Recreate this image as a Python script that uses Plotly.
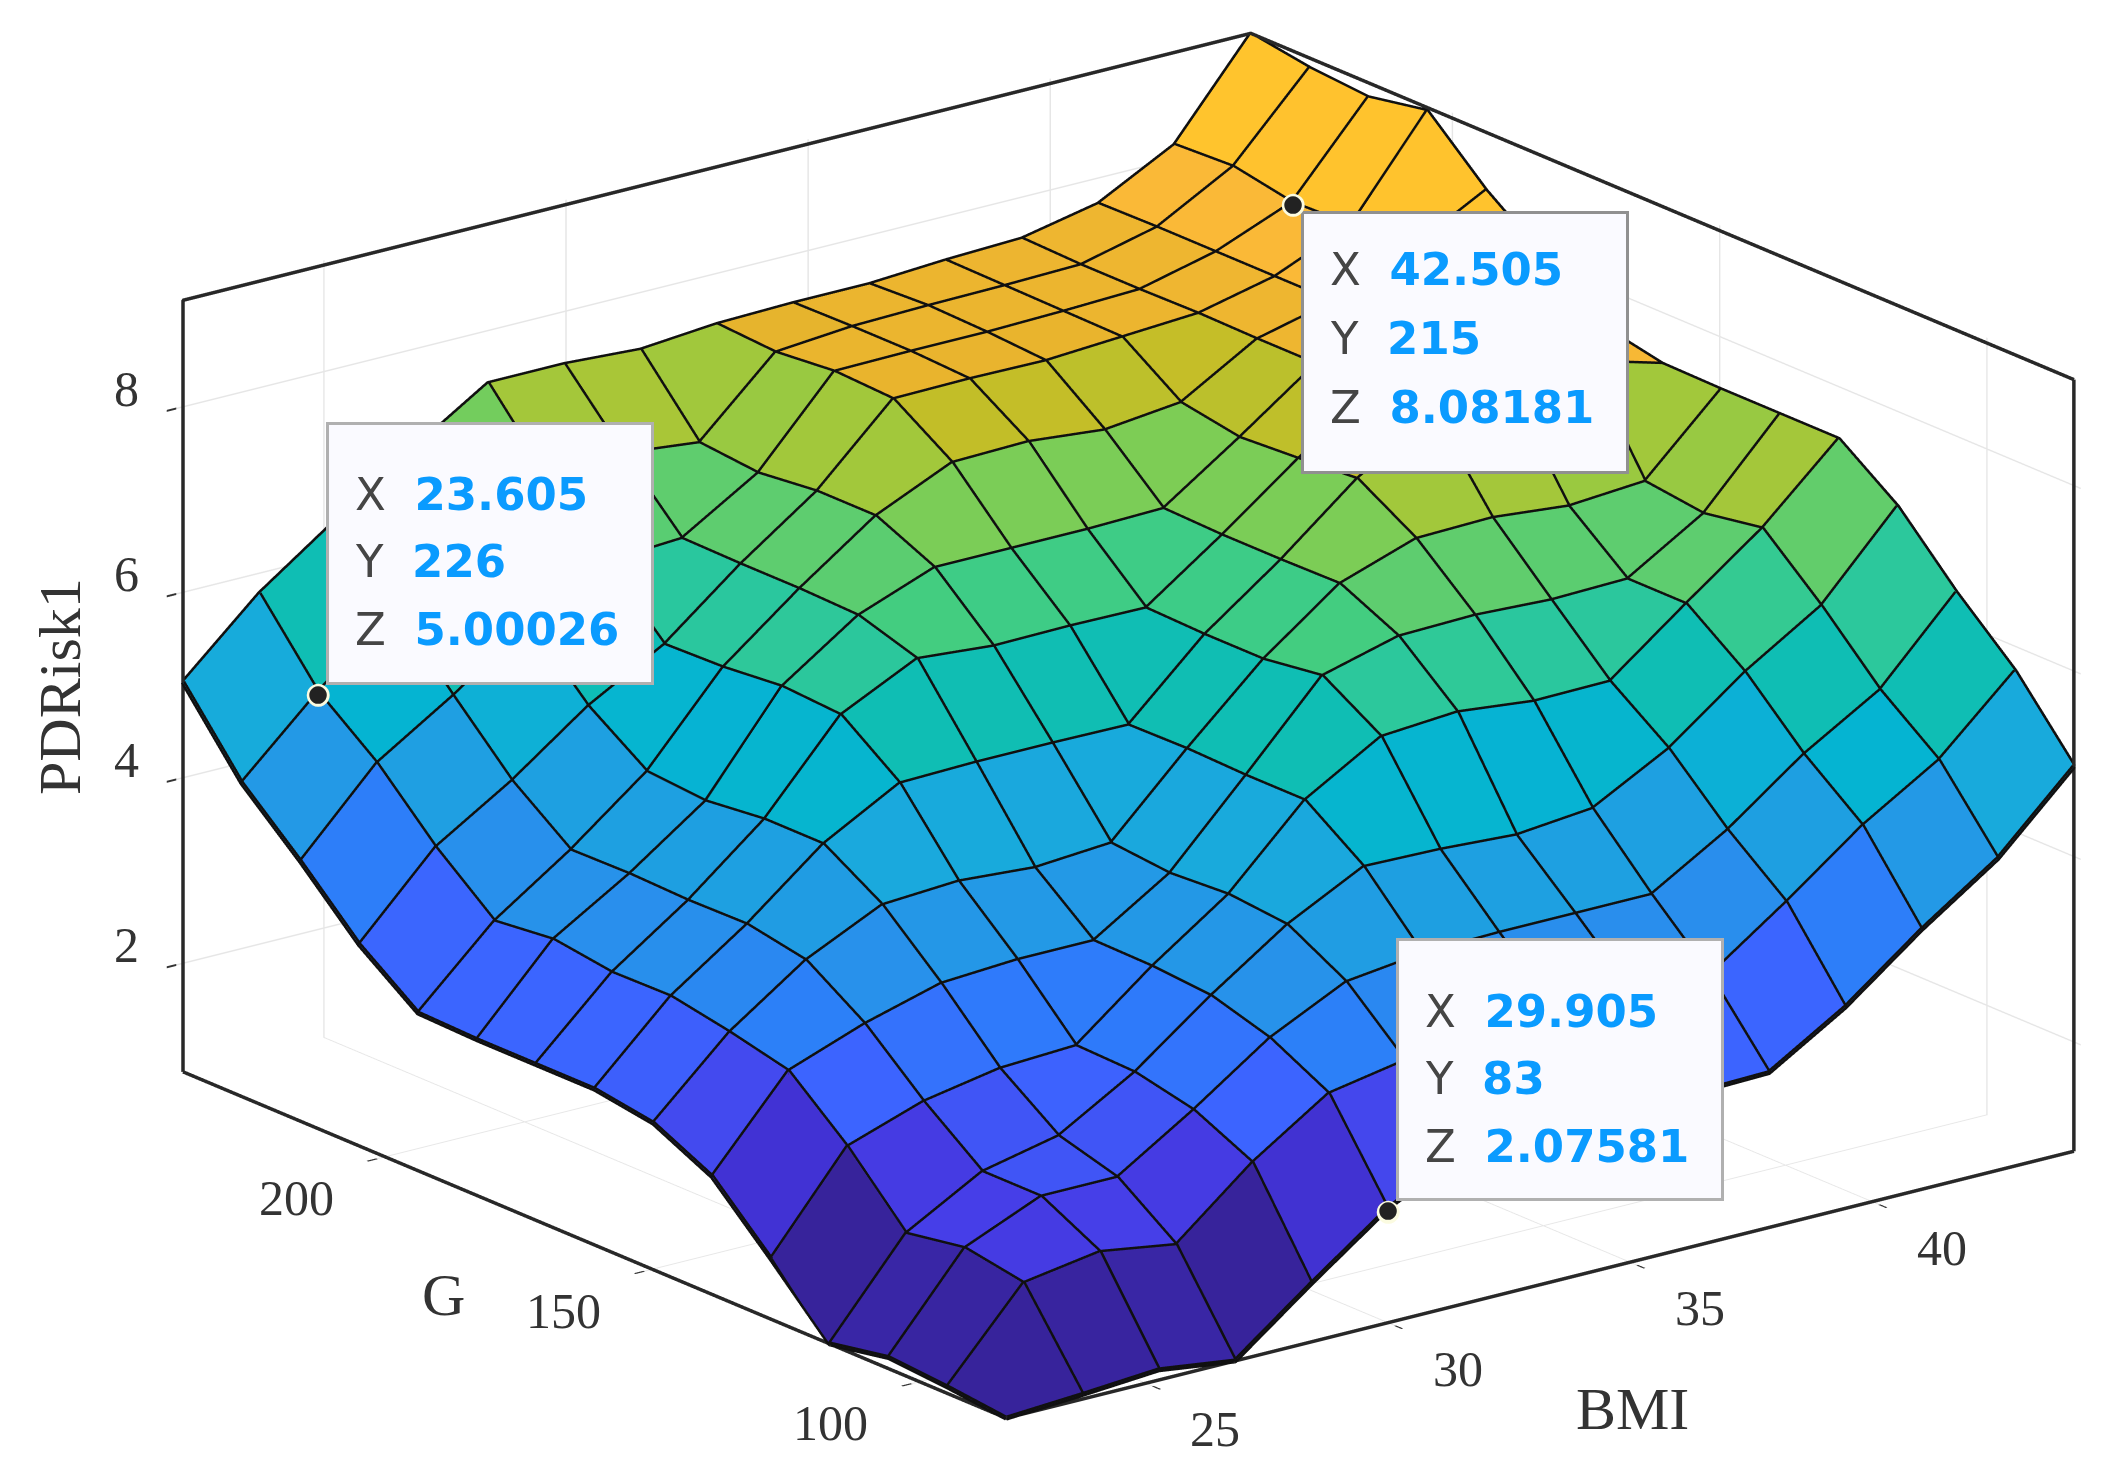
import plotly.graph_objects as go

W, H = 2117, 1477
BMI = [22.03 + 1.575 * n for n in range(15)]
G = [83 + 11 * n for n in range(15)]
# PDRisk1: one row per BMI value, one column per G value
Z = [
 [0.85,0.92,0.97,0.85,1.50,2.12,2.43,2.53,2.53,2.53,2.55,3.02,3.65,4.23,5.05],
 [0.90,1.83,1.94,1.83,2.50,3.05,3.20,3.32,3.31,3.40,3.33,3.86,4.50,5.00,5.80],
 [0.96,1.96,2.29,2.29,2.78,3.35,3.77,3.89,3.88,3.90,3.89,4.37,5.02,5.70,6.38],
 [0.85,1.83,2.29,2.47,2.93,3.58,4.16,4.55,4.55,4.48,4.53,4.97,5.60,6.30,6.93],
 [1.48,2.51,2.81,2.95,2.97,3.63,4.21,5.00,5.47,5.51,5.45,5.43,6.05,6.70,7.45],
 [2.08,3.05,3.38,3.57,3.62,3.63,4.15,5.02,5.87,6.07,6.09,6.09,6.10,6.75,7.45],
 [2.50,3.20,3.78,4.13,4.19,4.15,4.21,5.02,5.80,6.38,6.67,6.67,6.60,6.66,7.40],
 [2.50,3.30,3.88,4.55,5.00,5.00,5.02,5.01,5.81,6.38,7.04,7.46,7.49,7.43,7.47],
 [2.50,3.30,3.90,4.53,5.48,5.87,5.78,5.78,5.80,6.38,7.06,7.47,7.50,7.50,7.49],
 [2.50,3.30,3.90,4.48,5.54,6.09,6.39,6.38,6.38,6.40,6.98,7.46,7.50,7.52,7.49],
 [2.52,3.30,3.90,4.56,5.45,6.11,6.67,7.05,7.00,6.96,7.07,7.51,7.52,7.53,7.54],
 [3.02,3.88,4.39,5.00,5.46,6.07,6.69,7.55,7.55,7.55,7.55,7.56,7.55,7.55,7.57],
 [3.65,4.50,5.00,5.62,6.09,6.09,6.61,7.60,7.70,7.75,7.75,7.75,7.75,7.75,7.74],
 [4.21,5.00,5.49,6.13,6.70,6.59,6.67,7.70,8.00,8.10,8.10,8.10,8.08,8.20,8.17],
 [5.00,5.76,6.34,7.00,7.46,7.46,7.46,7.47,7.60,8.07,8.54,9.13,9.01,9.06,9.16],
]
BMI_TICKS = [25, 30, 35, 40]
G_TICKS = [100, 150, 200]
Z_TICKS = [2, 4, 6, 8]
X_RANGE = [BMI[0], BMI[-1]]
Y_RANGE = [G[0], G[-1]]
Z_RANGE = [0.85, 9.17]
TIPS = [
 (23.605, 226, 5.00026, "23.605", "226", "5.00026", 1),
 (42.505, 215, 8.08181, "42.505", "215", "8.08181", -1),
 (29.905, 83, 2.07581, "29.905", "83", "2.07581", 1),
]
ANCHORS = [(0.85,(55,35,155)),(1.5,(65,50,212)),(1.95,(70,62,232)),(2.5,(60,100,255)),
 (3.0,(45,125,250)),(3.35,(40,145,235)),(3.9,(30,160,225)),(4.2,(25,170,220)),(4.5,(5,180,210)),
 (5.0,(15,190,180)),(5.5,(45,200,155)),(5.85,(65,205,130)),(6.1,(95,205,110)),(6.4,(125,205,85)),
 (6.65,(160,200,60)),(7.05,(195,190,40)),(7.45,(232,180,45)),(7.75,(250,185,55)),(8.1,(255,195,45)),(9.2,(255,205,40))]

def colour(v):
    for (a, ca), (b, cb) in zip(ANCHORS, ANCHORS[1:]):
        if v <= b:
            t = max(0, (v - a) / (b - a))
            return "rgb(%d,%d,%d)" % tuple(round(p + (q - p) * t) for p, q in zip(ca, cb))
    return "rgb(255,205,40)"

n, m = len(BMI), len(G)
vx = [BMI[a] for a in range(n) for b in range(m)]
vy = [G[b] for a in range(n) for b in range(m)]
vz = [Z[a][b] for a in range(n) for b in range(m)]
ti, tj, tk, fc = [], [], [], []
for a in range(n - 1):
    for b in range(m - 1):
        p = a * m + b
        ti += [p, p]
        tj += [p + m, p + m + 1]
        tk += [p + m + 1, p + 1]
        fc += [colour(Z[a][b])] * 2

fig = go.Figure()
fig.add_trace(go.Mesh3d(x=vx, y=vy, z=vz, i=ti, j=tj, k=tk, facecolor=fc, flatshading=True,
    lighting=dict(ambient=1, diffuse=0, specular=0, roughness=1, fresnel=0), hoverinfo="skip"))

lx, ly, lz = [], [], []
for a in range(n):
    lx += [BMI[a]] * m + [None]; ly += G + [None]; lz += Z[a] + [None]
for b in range(m):
    lx += BMI + [None]; ly += [G[b]] * n + [None]; lz += [Z[a][b] for a in range(n)] + [None]
fig.add_trace(go.Scatter3d(x=lx, y=ly, z=lz, mode="lines", line=dict(color="#101010", width=10), hoverinfo="skip"))

x0, x1 = X_RANGE; y0, y1 = Y_RANGE; z0, z1 = Z_RANGE
bx = [x0, x0, x1, None, x1, x1, None, x0, x0, x1, x1, None]
by = [y1, y0, y0, None, y0, y0, None, y1, y1, y1, y0, None]
bz = [z0, z0, z0, None, z0, z1, None, z0, z1, z1, z1, None]
fig.add_trace(go.Scatter3d(x=bx, y=by, z=bz, mode="lines", line=dict(color="#282828", width=7), hoverinfo="skip"))

ann = []
tick_font = dict(family="Liberation Serif", size=50, color="#333333")
for v in BMI_TICKS:
    ann.append(dict(x=v, y=y0, z=z0, text=str(v), showarrow=False, xshift=65, yshift=-47, font=tick_font))
for v in G_TICKS:
    ann.append(dict(x=x0, y=v, z=z0, text=str(v), showarrow=False, xshift=-85, yshift=-43, font=tick_font))
for v in Z_TICKS:
    ann.append(dict(x=x0, y=y1, z=v, text=str(v), showarrow=False, xshift=-57, yshift=20, font=tick_font))

for t in TIPS:
    up = t[6]
    base = dict(x=t[0], y=t[1], z=t[2], showarrow=False, xanchor="left")
    if up > 0:
        ann.append(dict(base, text=" ", width=320, height=255, bgcolor="#fafaff", bordercolor="#b0b0b0", borderwidth=3,
                        xshift=8, yshift=8, yanchor="bottom"))
        rows = [198, 131, 63]
    else:
        ann.append(dict(base, text=" ", width=320, height=255, bgcolor="#fafaff", bordercolor="#909090", borderwidth=3,
                        xshift=8, yshift=-8, yanchor="top"))
        rows = [-67, -136, -205]
    for lab, val, dy in zip("XYZ", t[3:6], rows):
        ann.append(dict(base, yanchor="middle", xshift=35, yshift=dy,
            text='<span style="color:#454545">%s&nbsp;&nbsp;</span><b style="color:#0a9bff">%s</b>' % (lab, val),
            font=dict(family="DejaVu Sans", size=45)))
    ann.append(dict(base, xanchor="center", yanchor="middle", text="●", font=dict(family="DejaVu Sans", size=30, color="#fbfbe0")))
    ann.append(dict(base, xanchor="center", yanchor="middle", text="●", font=dict(family="DejaVu Sans", size=23, color="#222222")))

axis = dict(showbackground=False, showspikes=False, zeroline=False, showline=False, gridcolor="#e6e6e6", gridwidth=3,
            ticks="outside", ticklen=12, tickcolor="#333333", tickwidth=4, title=dict(text=""), showticklabels=False)
title_font = dict(family="Liberation Serif", size=60, color="#333333")
SCALE = 1.873
PAD_X, PAD_Y, PAD_Z = 0.08, 0.55, 0.03
fig.update_layout(
    width=W, height=H, margin=dict(l=0, r=0, t=0, b=0), paper_bgcolor="white", showlegend=False,
    scene=dict(
        domain=dict(x=[0.062, 0.997], y=[0.012, 0.994]),
        xaxis=dict(axis, range=[x0 - PAD_X, x1 + PAD_X], tickvals=BMI_TICKS),
        yaxis=dict(axis, range=[y0 - PAD_Y, y1 + PAD_Y], tickvals=G_TICKS),
        zaxis=dict(axis, range=[z0 - PAD_Z, z1 + PAD_Z], tickvals=Z_TICKS),
        aspectmode="manual", aspectratio=dict(x=SCALE, y=SCALE, z=0.605*SCALE),
        camera=dict(projection=dict(type="orthographic"), up=dict(x=0, y=0, z=1),
                    center=dict(x=0, y=0, z=-0.0237), eye=dict(x=-0.5786*4, y=-0.7506*4, z=0.319*4)),
        annotations=ann),
    annotations=[
        dict(text="BMI", xref="paper", yref="paper", x=1624/W, y=1-1401/H, xanchor="center", yanchor="middle", showarrow=False, font=title_font),
        dict(text="G", xref="paper", yref="paper", x=435/W, y=1-1287/H, xanchor="center", yanchor="middle", showarrow=False, font=title_font),
        dict(text="PDRisk1", xref="paper", yref="paper", x=52/W, y=1-679/H, xanchor="center", yanchor="middle", showarrow=False, textangle=-90, font=title_font),
    ])
fig.write_html("out.html")
